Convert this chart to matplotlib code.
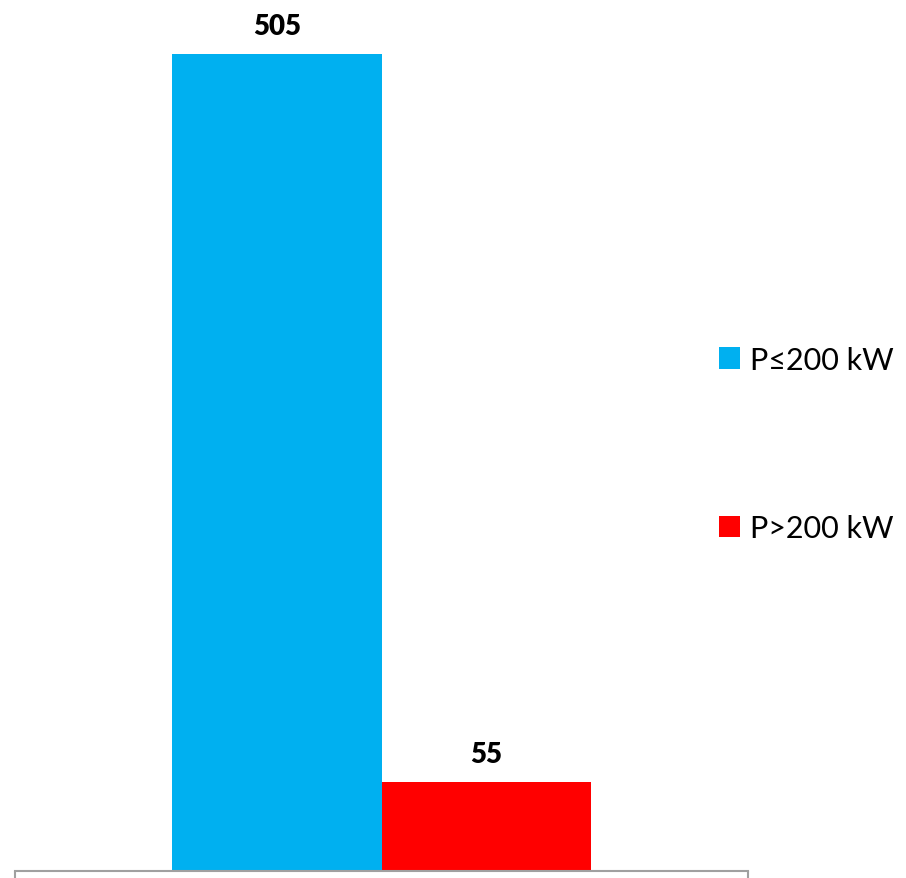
import matplotlib
matplotlib.use("Agg")
import matplotlib.pyplot as plt
from matplotlib.patches import Patch

categories = ["P≤200 kW", "P>200 kW"]
values = [505, 55]
colors = ["#00B0F0", "#FF0000"]

W, H = 906, 879
fig = plt.figure(figsize=(W / 100, H / 100), dpi=100)
ax = fig.add_axes([15 / W, 7 / H, 733 / W, 872 / H])

FAM = ["Lato", "DejaVu Sans"]
bw = 209.5 / 733
xs = [-bw / 2, bw / 2]
for x, v, c, lab in zip(xs, values, colors, categories):
    b = ax.bar(x, v, width=bw, color=c, label=lab, zorder=2)
    ax.bar_label(b, labels=[str(v)], padding=11, fontsize=20, fontweight="heavy",
                 family=FAM, color="black")

ax.set_xlim(-0.5, 0.5)
ax.set_ylim(0, 872 / (817 / 505))
for s in ["top", "left", "right"]:
    ax.spines[s].set_visible(False)
ax.spines["bottom"].set_color("#A0A0A0")
ax.spines["bottom"].set_linewidth(1.5)
ax.set_yticks([])
ax.set_xticks([-0.5, 0.5])
ax.set_xticklabels([])
ax.tick_params(axis="x", length=5, width=1.5, color="#A0A0A0", direction="out")

handles = [Patch(facecolor=c, edgecolor="none") for c in colors]
fig.legend(handles, categories, loc="center left",
           bbox_to_anchor=(719 / W, 1 - 445 / H), frameon=False,
           prop={"family": FAM, "size": 22},
           handlelength=0.69, handleheight=0.69, handletextpad=0.33,
           labelspacing=4.6, borderpad=0, borderaxespad=0)

fig.savefig("out.png", dpi=100)
